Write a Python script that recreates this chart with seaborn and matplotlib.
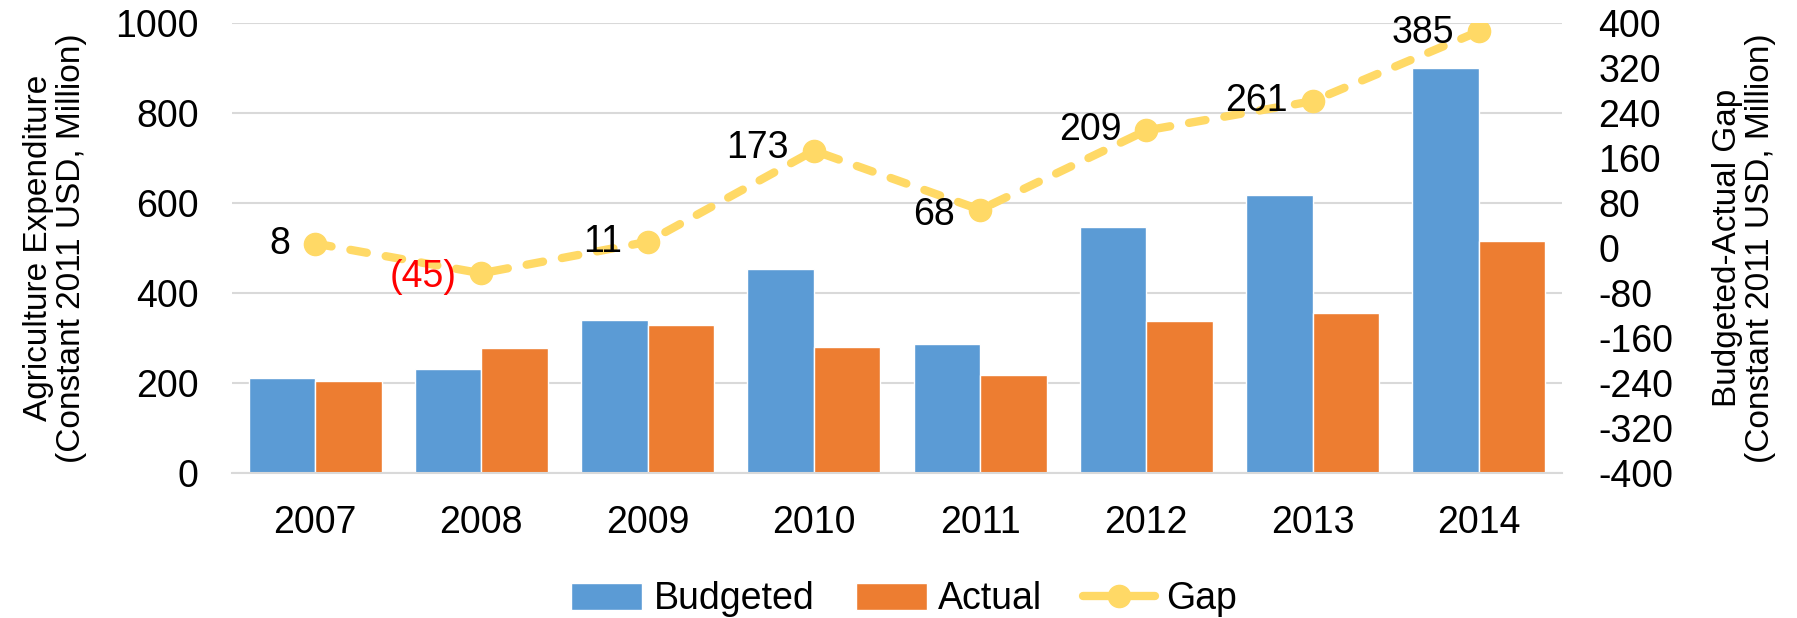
import numpy as np
import pandas as pd
import matplotlib
matplotlib.use("Agg")
import matplotlib.pyplot as plt
import seaborn as sns
from matplotlib.lines import Line2D
from matplotlib.patches import Patch

# Chart data
years = ["2007", "2008", "2009", "2010", "2011", "2012", "2013", "2014"]
budgeted = [212, 232, 341, 453, 286, 547, 617, 900]
actual = [204, 277, 330, 280, 217, 337, 356, 516]
gap = [8, -45, 11, 173, 68, 209, 261, 385]
gap_labels = ["8", "(45)", "11", "173", "68", "209", "261", "385"]

BLUE = "#5B9BD5"
ORANGE = "#ED7D31"
YELLOW = "#FFD966"
GRID = "#D9D9D9"

sns.set_theme(style="white")
plt.rcParams["font.family"] = ["Liberation Sans", "DejaVu Sans"]
plt.rcParams["axes.unicode_minus"] = False
plt.rcParams["text.color"] = "black"
plt.rcParams["axes.labelcolor"] = "black"

NUM_SIZE = 27
LABEL_SIZE = 24

df = pd.DataFrame({
    "Year": years * 2,
    "Value": budgeted + actual,
    "Series": ["Budgeted"] * len(years) + ["Actual"] * len(years),
})

fig = plt.figure(figsize=(17.97, 6.18), dpi=100)
ax = fig.add_axes([0.1291, 0.2346, 0.7401, 0.7282])

sns.barplot(data=df, x="Year", y="Value", hue="Series",
            palette={"Budgeted": BLUE, "Actual": ORANGE},
            width=0.8, ax=ax, legend=False, saturation=1)

ax.set_ylim(0, 1000)
ax.set_yticks(range(0, 1001, 200))
ax.yaxis.grid(True, color=GRID, linewidth=1.5)
ax.set_axisbelow(True)
for s in ["top", "right", "left"]:
    ax.spines[s].set_visible(False)
ax.spines["bottom"].set_color(GRID)
ax.spines["bottom"].set_linewidth(1.5)
ax.tick_params(axis="both", length=0, labelsize=NUM_SIZE, colors="black")
ax.tick_params(axis="x", pad=23)
ax.tick_params(axis="y", pad=24)
ax.set_xlabel("")
ax.set_ylabel("Agriculture Expenditure\n(Constant 2011 USD, Million)",
              fontsize=LABEL_SIZE, labelpad=20, linespacing=1.1, color="black")
ax.set_xlim(-0.5, len(years) - 0.5)

# Gap line on secondary axis
ax2 = ax.twinx()
xpos = np.arange(len(years))
ax2.plot(xpos, gap, color=YELLOW, linewidth=6, linestyle=(0, (2, 2.3)),
         dash_capstyle="round", marker="o", markersize=16,
         markerfacecolor=YELLOW, markeredgecolor=YELLOW, zorder=5)
ax2.set_ylim(-400, 400)
ax2.set_yticks(range(-400, 401, 80))
for s in ax2.spines.values():
    s.set_visible(False)
ax2.tick_params(axis="y", length=0, labelsize=NUM_SIZE, colors="black", pad=26)
ax2.set_ylabel("Budgeted-Actual Gap\n(Constant 2011 USD, Million)",
               fontsize=LABEL_SIZE, labelpad=28, linespacing=1.1, color="black")

# data labels, offsets in points
offsets = [(-18, 0), (-18, -3), (-18, 0), (-18, 2), (-18, -4), (-18, 0), (-18, 0), (-18, -1)]
for i, (v, lab) in enumerate(zip(gap, gap_labels)):
    ax2.annotate(lab, (xpos[i], v), xytext=offsets[i], textcoords="offset points",
                 ha="right", va="center", fontsize=NUM_SIZE,
                 color="red" if v < 0 else "black", zorder=6)

handles = [
    Patch(facecolor=BLUE, label="Budgeted"),
    Patch(facecolor=ORANGE, label="Actual"),
    Line2D([0], [0], color=YELLOW, linewidth=6, marker="o", markersize=16,
           label="Gap"),
]
leg = fig.legend(handles=handles, loc="center", bbox_to_anchor=(0.503, 0.03),
                 ncol=3, frameon=False, fontsize=NUM_SIZE, handlelength=1.9,
                 handleheight=0.75, columnspacing=1.1, handletextpad=0.3)
for t in leg.get_texts():
    t.set_color("black")

fig.savefig("out.png", dpi=100)
